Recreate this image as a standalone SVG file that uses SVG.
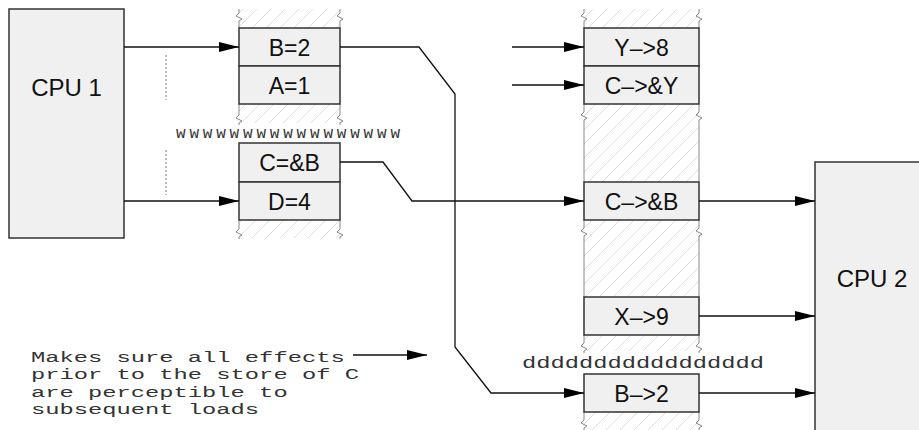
<svg xmlns="http://www.w3.org/2000/svg" width="919" height="430" viewBox="0 0 919 430">
<defs>
<pattern id="hatch" patternUnits="userSpaceOnUse" width="14" height="14">
<path d="M-1,1 L1,-1 M0,14 L14,0 M13,15 L15,13" stroke="#dcdcdc" stroke-width="1"/>
</pattern>
<marker id="arr" markerUnits="userSpaceOnUse" markerWidth="21" markerHeight="12" refX="20" refY="6" orient="auto">
<path d="M0,1 L20,6 L0,11 Z" fill="#000"/>
</marker>
<path id="sq" d="M0,0 v4 l-3,3 l6,3 l-3,2 v2" fill="none" stroke="#888" stroke-width="1"/>
</defs>
<style>
.box{fill:#f0f0f0;stroke:#333;stroke-width:1.5}
.lbl{font-family:"Liberation Sans",Arial,sans-serif;font-size:23px;text-anchor:middle;fill:#111}
.cpu{font-family:"Liberation Sans",Arial,sans-serif;font-size:24px;text-anchor:middle;fill:#111}
.mono{font-family:"Liberation Mono","Courier New",monospace;fill:#333}
.note{font-size:15.4px}
.side{stroke:#888;stroke-width:1;fill:none}
.hz{fill:url(#hatch);stroke:none}
.con{fill:none;stroke:#111;stroke-width:1.3}
.dot{stroke:#999;stroke-width:1.3;stroke-dasharray:2,2}
</style>
<rect width="919" height="430" fill="#fff"/>

<g id="buffer1">
<rect class="hz" x="239" y="9" width="101" height="19"/>
<rect class="hz" x="239" y="104" width="101" height="19"/>
<rect class="hz" x="239" y="220" width="101" height="18"/>
<use href="#sq" x="239" y="9"/><line class="side" x1="239" y1="23" x2="239" y2="28"/>
<use href="#sq" x="340" y="9"/><line class="side" x1="340" y1="23" x2="340" y2="28"/>
<line class="side" x1="239" y1="104" x2="239" y2="111"/><use href="#sq" x="239" y="111"/>
<line class="side" x1="340" y1="104" x2="340" y2="111"/><use href="#sq" x="340" y="111"/>
<line class="side" x1="239" y1="220" x2="239" y2="225"/><use href="#sq" x="239" y="225"/>
<line class="side" x1="340" y1="220" x2="340" y2="225"/><use href="#sq" x="340" y="225"/>
</g>

<g id="buffer2">
<rect class="hz" x="584" y="9" width="115" height="19"/>
<rect class="hz" x="584" y="104" width="115" height="78"/>
<rect class="hz" x="584" y="220" width="115" height="77"/>
<rect class="hz" x="584" y="335" width="115" height="16"/>
<rect class="hz" x="584" y="412" width="115" height="18"/>
<use href="#sq" x="584" y="9"/><line class="side" x1="584" y1="23" x2="584" y2="28"/>
<use href="#sq" x="699" y="9"/><line class="side" x1="699" y1="23" x2="699" y2="28"/>
<line class="side" x1="584" y1="104" x2="584" y2="108"/><use href="#sq" x="584" y="108"/><line class="side" x1="584" y1="122" x2="584" y2="182"/>
<line class="side" x1="699" y1="104" x2="699" y2="108"/><use href="#sq" x="699" y="108"/><line class="side" x1="699" y1="122" x2="699" y2="182"/>
<line class="side" x1="584" y1="220" x2="584" y2="224"/><use href="#sq" x="584" y="224"/><line class="side" x1="584" y1="238" x2="584" y2="297"/>
<line class="side" x1="699" y1="220" x2="699" y2="224"/><use href="#sq" x="699" y="224"/><line class="side" x1="699" y1="238" x2="699" y2="297"/>
<line class="side" x1="584" y1="335" x2="584" y2="339"/><use href="#sq" x="584" y="339"/>
<line class="side" x1="699" y1="335" x2="699" y2="339"/><use href="#sq" x="699" y="339"/>
<line class="side" x1="584" y1="412" x2="584" y2="416"/><use href="#sq" x="584" y="416"/>
<line class="side" x1="699" y1="412" x2="699" y2="416"/><use href="#sq" x="699" y="416"/>
</g>

<g id="cpu1"><rect class="box" x="9" y="9" width="115" height="229"/><text class="cpu" x="66.5" y="96">CPU 1</text></g>
<g id="cpu2"><rect class="box" x="815" y="162" width="130" height="300"/><text class="cpu" x="872" y="287">CPU 2</text></g>

<g id="s-b2"><rect class="box" x="239" y="28" width="101" height="38"/><text class="lbl" x="289.5" y="55.5">B=2</text></g>
<g id="s-a1"><rect class="box" x="239" y="66" width="101" height="38"/><text class="lbl" x="289.5" y="93.5">A=1</text></g>
<g id="s-cb"><rect class="box" x="239" y="143" width="101" height="39"/><text class="lbl" x="289.5" y="170.5">C=&amp;B</text></g>
<g id="s-d4"><rect class="box" x="239" y="182" width="101" height="38"/><text class="lbl" x="289.5" y="209.5">D=4</text></g>

<g id="l-y8"><rect class="box" x="584" y="28" width="115" height="38"/><text class="lbl" x="641.5" y="55.5">Y–&gt;8</text></g>
<g id="l-cy"><rect class="box" x="584" y="66" width="115" height="38"/><text class="lbl" x="641.5" y="93.5">C–&gt;&amp;Y</text></g>
<g id="l-cb"><rect class="box" x="584" y="182" width="115" height="38"/><text class="lbl" x="641.5" y="209.5">C–&gt;&amp;B</text></g>
<g id="l-x9"><rect class="box" x="584" y="297" width="115" height="38"/><text class="lbl" x="641.5" y="324.5">X–&gt;9</text></g>
<g id="l-b2"><rect class="box" x="584" y="374" width="115" height="38"/><text class="lbl" x="641.5" y="401.5">B–&gt;2</text></g>

<g id="wmb"><text class="mono" font-size="16" letter-spacing="3.8" x="176" y="138">wwwwwwwwwwwwwwwww</text></g>
<g id="rmb"><text class="mono" font-size="17" x="522" y="368" textLength="242" lengthAdjust="spacingAndGlyphs">ddddddddddddddddd</text></g>

<g id="note">
<text class="mono note" transform="translate(31,0) scale(1.544,1)"><tspan x="0" y="362">Makes sure all effects</tspan><tspan x="0" y="379.5">prior to the store of C</tspan><tspan x="0" y="397">are perceptible to</tspan><tspan x="0" y="414.5">subsequent loads</tspan></text>
</g>

<g id="connectors">
<line class="dot" x1="166" y1="55" x2="166" y2="100"/>
<line class="dot" x1="166" y1="150" x2="166" y2="195"/>
<path class="con" marker-end="url(#arr)" d="M124,47 H239"/>
<path class="con" marker-end="url(#arr)" d="M124,201 H239"/>
<path class="con" marker-end="url(#arr)" d="M512,47 H584"/>
<path class="con" marker-end="url(#arr)" d="M512,85 H584"/>
<path class="con" marker-end="url(#arr)" d="M340,162 H383 L412,201 H584"/>
<path class="con" marker-end="url(#arr)" d="M340,47 H419 L455,94 V347 L491,393 H584"/>
<path class="con" marker-end="url(#arr)" d="M699,201 H815"/>
<path class="con" marker-end="url(#arr)" d="M699,316 H815"/>
<path class="con" marker-end="url(#arr)" d="M699,393 H815"/>
<path class="con" marker-end="url(#arr)" d="M353,355 H427"/>
</g>
</svg>
